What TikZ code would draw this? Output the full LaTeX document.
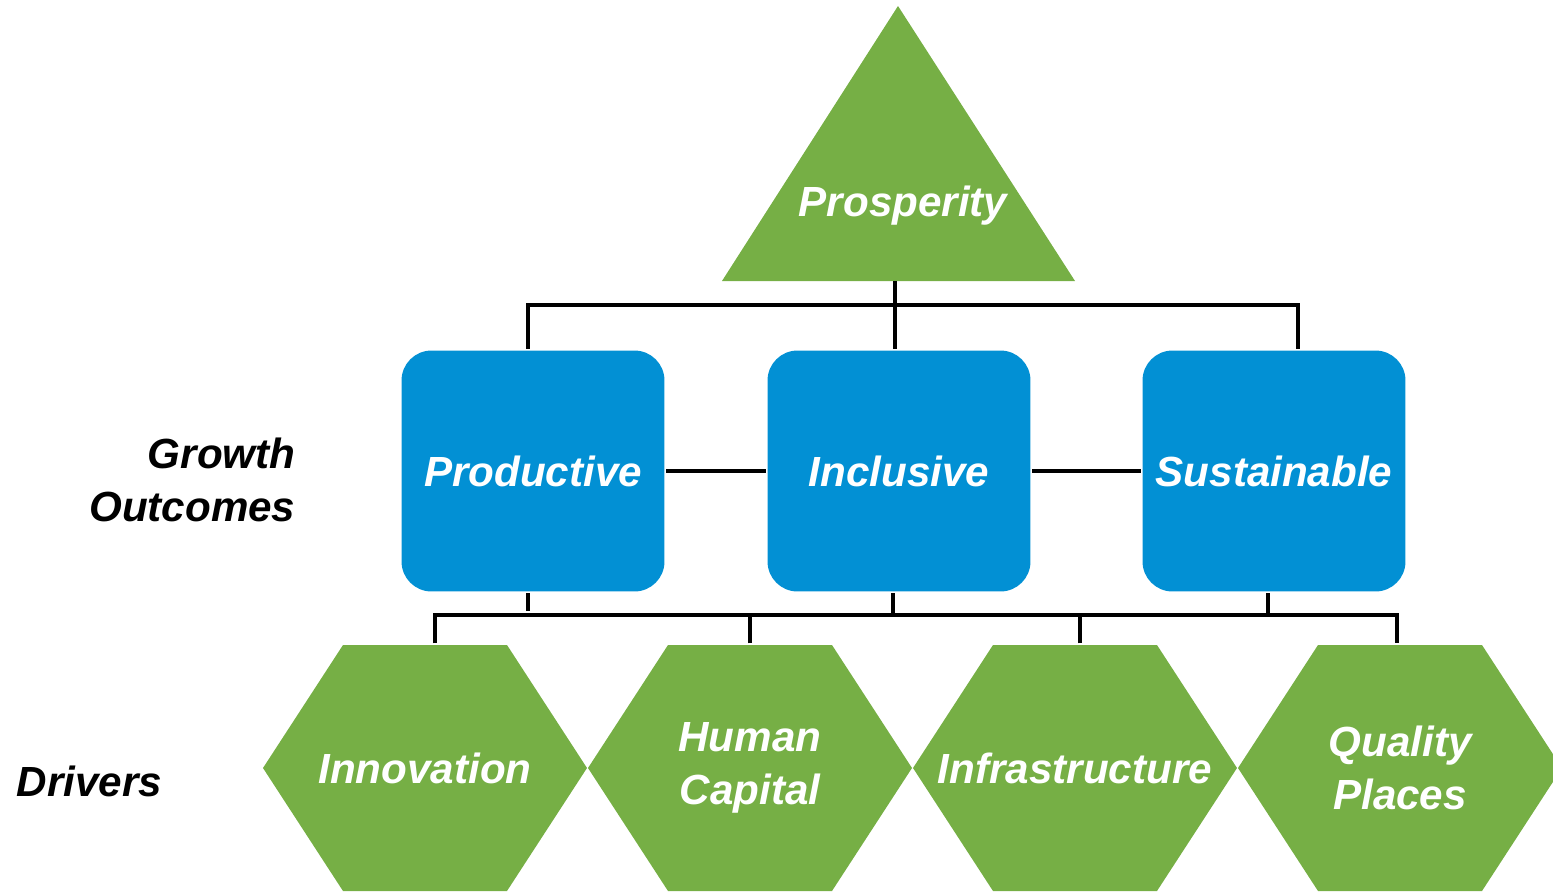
\documentclass[tikz,border=0pt]{standalone}
\usepackage{fontspec}
\setmainfont{Liberation Sans}
\definecolor{leafgreen}{RGB}{118,175,69}
\definecolor{skyblue}{RGB}{2,144,212}

\begin{document}
\begin{tikzpicture}[x=0.02cm,y=-0.02cm,line width=1.8pt,
	lbl/.style={font=\bfseries\itshape\fontsize{24}{30}\selectfont,align=center,inner sep=0pt},
	outcome/.style={lbl,text=white,fill=skyblue,rounded corners=0.6cm,minimum width=5.26cm,minimum height=4.82cm},
	driver/.style={lbl,text=white,minimum width=3.28cm,minimum height=4.92cm}]
	\useasboundingbox (0,0) rectangle (1553,893);
	% goal
	\fill[leafgreen] (722,281) -- (898,6) -- (1075,281) -- cycle;
	\node[lbl,text=white] (prosp) at (903,206) {Prosperity};
	\coordinate (tri) at (895,281);
	\coordinate (bus1) at (895,305);
	\coordinate (bus2) at (893,615);
	% growth outcomes
	\node[outcome] (prod) at (533,471) {Productive};
	\node[outcome] (incl) at (899,471) {Inclusive};
	\node[outcome] (sust) at (1274,471) {Sustainable};
	\node[lbl,align=right,anchor=east] (growth) at (297,480) {Growth\\Outcomes};
	% drivers
	\foreach \cx/\nm/\txt in {425/innov/Innovation,750/human/{Human\\Capital},1075/infra/Infrastructure,1400/qual/{Quality\\Places}}{
		\fill[leafgreen] (\cx-162,768) -- (\cx-82,645) -- (\cx+82,645) -- (\cx+162,768) -- (\cx+82,891) -- (\cx-82,891) -- cycle;
		\node[driver] (\nm) at (\cx,768) {\txt};
	}
	\node[lbl,anchor=west] (drivers) at (15,781) {Drivers};
	% connectors
	\draw (tri) -- (bus1);
	\draw ([xshift=-0.1cm]prod.north) |- (bus1) -| ([xshift=0.48cm]sust.north);
	\draw (bus1) -- (bus1 |- incl.north);
	\draw (prod.east) -- (incl.west);
	\draw (incl.east) -- (sust.west);
	\draw ([xshift=-0.1cm]prod.south) -- ++(0,18);
	\draw (bus2 |- incl.south) -- (bus2);
	\draw ([xshift=-0.12cm]sust.south) -- ([xshift=-0.12cm]sust.south |- bus2);
	\draw ([xshift=0.2cm]innov.north) |- (bus2) -| ([xshift=-0.06cm]qual.north);
	\draw (human.north) -- (human.north |- bus2);
	\draw ([xshift=0.1cm]infra.north) -- ([xshift=0.1cm]infra.north |- bus2);
\end{tikzpicture}
\end{document}
